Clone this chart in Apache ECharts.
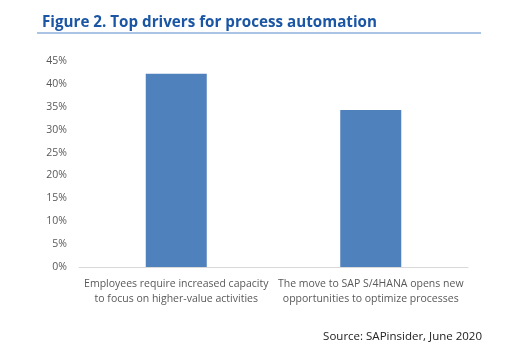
<!DOCTYPE html>
<html>
<head>
<meta charset="utf-8">
<script src="https://cdn.jsdelivr.net/npm/echarts@6/dist/echarts.min.js"></script>
<style>
html,body{margin:0;padding:0;background:#fff;}
#chart{width:525px;height:353px;}
</style>
</head>
<body>
<div id="chart"></div>
<script>
// data
const categories = [
  'Employees require increased capacity\nto focus on higher-value activities',
  'The move to SAP S/4HANA opens new\nopportunities to optimize processes'
];
const shares = [42.2, 34.3];
const titleText = 'Figure 2. Top drivers for process automation';
const sourceText = 'Source: SAPinsider, June 2020';

let myecharts = echarts.init(document.getElementById('chart'));
let option = {
  animation: false,
  title: {
    text: titleText,
    left: 37,
    top: 10,
    textStyle: {
      fontFamily: 'Open Sans',
      fontWeight: 'bold',
      fontSize: 15.2,
      color: '#1b56a4'
    }
  },
  graphic: [
    {
      type: 'line',
      shape: {x1: 37, y1: 33, x2: 481, y2: 33},
      style: {stroke: '#8fb0dc', lineWidth: 1.5}
    },
    {
      type: 'text',
      right: 43,
      top: 331,
      style: {
        text: sourceText,
        font: '11.5px "Open Sans"',
        fill: '#222'
      }
    }
  ],
  grid: {
    left: 79,
    right: 57,
    top: 61,
    bottom: 86
  },
  xAxis: {
    type: 'category',
    data: categories,
    axisLine: {lineStyle: {color: '#d9d9d9'}},
    axisTick: {show: false},
    axisLabel: {
      interval: 0,
      color: '#595959',
      fontFamily: 'Open Sans',
      fontSize: 10.5,
      lineHeight: 15,
      margin: 10
    }
  },
  yAxis: {
    type: 'value',
    min: 0,
    max: 45,
    interval: 5,
    splitLine: {show: false},
    axisLine: {show: false},
    axisTick: {show: false},
    axisLabel: {
      formatter: '{value}%',
      color: '#595959',
      fontFamily: 'Open Sans',
      fontSize: 10.5,
      margin: 12
    }
  },
  series: [
    {
      type: 'bar',
      data: shares,
      barWidth: 61,
      itemStyle: {color: '#4f81bd'}
    }
  ]
};
myecharts.setOption(option);
</script>
</body>
</html>
